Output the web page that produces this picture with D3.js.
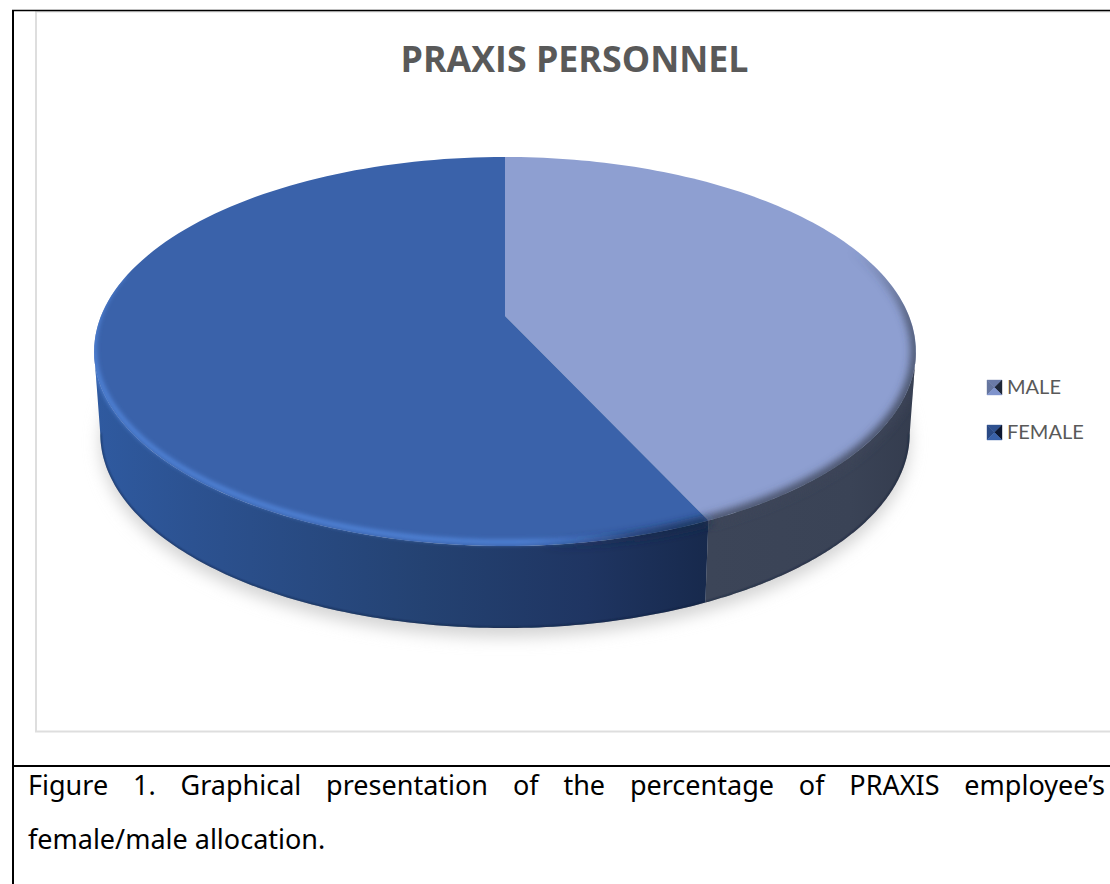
<!DOCTYPE html>
<html>
<head>
<meta charset="utf-8">
<script src="https://cdn.jsdelivr.net/npm/d3@7"></script>
<style>
  html, body { margin: 0; padding: 0; background: #fff; overflow: hidden; }
</style>
</head>
<body>
<div id="chart"></div>
<script>
// data
const categories = ["MALE", "FEMALE"];
const values = [43.1, 56.9];
const title = "PRAXIS PERSONNEL";
const captionLines = [
    "Figure 1. Graphical presentation of the percentage of PRAXIS employee\u2019s",
    "female/male allocation."
];

const width = 1110, height = 884;

const svg = d3.select("#chart").append("svg")
    .attr("width", width)
    .attr("height", height)
    .style("display", "block");

const defs = svg.append("defs");

// blur filters for shadow and bevel
[["blurShadow", 8], ["blurBevel", 4], ["blurSoft", 2.2], ["blurEdge", 1]].forEach(f => {
    defs.append("filter")
        .attr("id", f[0])
        .attr("filterUnits", "userSpaceOnUse")
        .attr("x", 0).attr("y", 0)
        .attr("width", width).attr("height", height)
        .append("feGaussianBlur")
        .attr("stdDeviation", f[1]);
});

function gradient(id, x1, y1, x2, y2, stops) {
    const g = defs.append("linearGradient")
        .attr("id", id)
        .attr("gradientUnits", "userSpaceOnUse")
        .attr("x1", x1).attr("x2", x2).attr("y1", y1).attr("y2", y2);
    stops.forEach(s => g.append("stop")
        .attr("offset", s[0]).attr("stop-color", s[1]).attr("stop-opacity", s[2] === undefined ? 1 : s[2]));
}
gradient("wallFemale", 94, 0, 916, 0, [[0, "#2f5aa0"], [0.12, "#2c5291"], [0.4, "#244272"], [0.6, "#1f3562"], [0.75, "#17294c"], [1, "#142340"]]);
gradient("wallMale", 94, 0, 916, 0, [[0, "#3c4558"], [0.75, "#3c4558"], [0.92, "#3a4356"], [1, "#343c4e"]]);
// bevel strokes fade along the rim
gradient("bevelMale", 0, 250, 0, 390, [[0, "#3c4558", 0], [0.5, "#3c4558", 0.85], [1, "#3c4558", 1]]);
gradient("bevelLight", 520, 0, 630, 0, [[0, "#4f82d6", 1], [1, "#4f82d6", 0]]);
gradient("bevelDark", 540, 0, 680, 0, [[0, "#17294c", 0], [1, "#17294c", 1]]);

// frame of the table cell and of the chart
const frame = svg.append("g");
frame.append("rect")
    .attr("x", 36).attr("y", 11.5)
    .attr("width", 1090).attr("height", 720)
    .attr("fill", "#fff").attr("stroke", "#dedede").attr("stroke-width", 2);
frame.append("line").attr("x1", 13).attr("x2", 13).attr("y1", 10).attr("y2", height)
    .attr("stroke", "#000").attr("stroke-width", 2);
frame.append("line").attr("x1", 12).attr("x2", width).attr("y1", 10.5).attr("y2", 10.5)
    .attr("stroke", "#000").attr("stroke-width", 1.5);
frame.append("line").attr("x1", 12).attr("x2", width).attr("y1", 766).attr("y2", 766)
    .attr("stroke", "#000").attr("stroke-width", 2);

// title
svg.append("text")
    .attr("x", 574.5).attr("y", 72)
    .attr("text-anchor", "middle")
    .attr("font-family", "'Open Sans', Lato, sans-serif")
    .attr("font-weight", 700)
    .attr("font-size", 35)
    .attr("textLength", 348)
    .attr("lengthAdjust", "spacingAndGlyphs")
    .attr("fill", "#595959")
    .text(title);

// perspective disc: the circle is foreshortened and its centre sits above
// the middle of the ellipse
const cx = 505, tipY = 316, radius = 404, persp = -0.1825, depthY = 130.4, wallH = 82, wallShrink = 0.985;

function project(angle, lower) {
    const u = Math.sin(angle), v = -Math.cos(angle);
    const w = 1 + persp * v;
    const x = radius * u / w;
    const y = (depthY * v + tipY) / w;
    return lower ? [cx + x * wallShrink, y + wallH] : [cx + x, y];
}

const pie = d3.pie().sort(null).value(d => d).startAngle(0).endAngle(2 * Math.PI);
const slices = pie(values);
const line = d3.line();

// the widest point of the ellipse, where the side starts to show
const sideStart = Math.acos(persp);
const sideEnd = 2 * Math.PI - sideStart;

function rimPoints(a0, a1, lower) {
    return d3.range(0, 121).map(i => project(a0 + (a1 - a0) * i / 120, lower));
}
function facePath(s) {
    return line([[cx, tipY]].concat(rimPoints(s.startAngle, s.endAngle, false))) + "Z";
}
function wallPath(s) {
    const a0 = Math.max(s.startAngle, sideStart);
    const a1 = Math.min(s.endAngle, sideEnd);
    return line(rimPoints(a0, a1, false).concat(rimPoints(a0, a1, true).reverse())) + "Z";
}

const fullRim = rimPoints(0, 2 * Math.PI, false);
const silhouette = defs.append("clipPath").attr("id", "discClip");
silhouette.append("path").attr("d", line(fullRim) + "Z");
slices.forEach(s => silhouette.append("path").attr("d", wallPath(s)));

const faceColor = d3.scaleOrdinal().domain(categories).range(["#8e9fd1", "#3a62aa"]);
const wallFill = d3.scaleOrdinal().domain(categories).range(["url(#wallMale)", "url(#wallFemale)"]);

// soft shadow under the disc
svg.append("path")
    .attr("d", line(rimPoints(0, 2 * Math.PI, true)) + "Z")
    .attr("transform", "translate(0,9)")
    .attr("fill", "#d4d4d4")
    .attr("filter", "url(#blurShadow)");

svg.selectAll(".wall")
    .data(slices)
    .enter().append("path")
    .attr("class", "wall")
    .attr("d", wallPath)
    .attr("fill", (d, i) => wallFill(categories[i]));

svg.selectAll(".face")
    .data(slices)
    .enter().append("path")
    .attr("class", "face")
    .attr("d", facePath)
    .attr("fill", (d, i) => faceColor(categories[i]));

// bevel along the rim: dark on the male slice, light on the female slice
const bevel = svg.append("g").attr("clip-path", "url(#discClip)");
bevel.append("path")
    .attr("d", line(rimPoints(slices[0].endAngle, 0.95)))
    .attr("fill", "none")
    .attr("stroke", "url(#bevelMale)")
    .attr("stroke-width", 9)
    .attr("filter", "url(#blurBevel)");
bevel.append("path")
    .attr("d", line(rimPoints(slices[0].endAngle, Math.PI)))
    .attr("fill", "none")
    .attr("stroke", "url(#bevelDark)")
    .attr("stroke-width", 8)
    .attr("filter", "url(#blurBevel)");
bevel.append("path")
    .attr("d", line(rimPoints(Math.PI - 0.5, sideEnd + 0.4)))
    .attr("transform", "translate(0,-4)")
    .attr("fill", "none")
    .attr("stroke", "url(#bevelLight)")
    .attr("stroke-width", 5)
    .attr("filter", "url(#blurSoft)");
// thin dark line on the lower edge of the side
bevel.append("path")
    .attr("d", line(rimPoints(sideStart, sideEnd, true)))
    .attr("fill", "none")
    .attr("stroke", "#111c36")
    .attr("stroke-opacity", 0.6)
    .attr("stroke-width", 2)
    .attr("filter", "url(#blurEdge)");

// legend
const legend = svg.selectAll(".legend")
    .data(categories)
    .enter().append("g")
    .attr("class", "legend")
    .attr("transform", (d, i) => "translate(987," + (380 + i * 45) + ")");

const legendShades = [
    ["#6a7aa6", "#65759f", "#1e2738", "#7f93cc"],
    ["#2f5190", "#2b4a85", "#0d1730", "#3a62aa"]
];
const sz = 15;
const sideTriangles = [
    [[0, 0], [sz, 0], [sz / 2, sz / 2]],
    [[0, 0], [0, sz], [sz / 2, sz / 2]],
    [[sz, 0], [sz, sz], [sz / 2, sz / 2]],
    [[0, sz], [sz, sz], [sz / 2, sz / 2]]
];
legend.each(function(d, i) {
    d3.select(this).selectAll("path")
        .data(sideTriangles)
        .enter().append("path")
        .attr("d", t => line(t) + "Z")
        .attr("fill", (t, j) => legendShades[i][j])
        .attr("stroke", (t, j) => legendShades[i][j])
        .attr("stroke-width", 0.4);
});
legend.append("text")
    .attr("x", 20).attr("y", 14)
    .attr("font-family", "Lato, 'Open Sans', sans-serif")
    .attr("font-size", 20)
    .attr("fill", "#595959")
    .text(d => d);

// caption, first line justified
const caption = svg.selectAll(".caption")
    .data(captionLines)
    .enter().append("text")
    .attr("class", "caption")
    .attr("x", 28)
    .attr("y", (d, i) => 795 + i * 54)
    .attr("font-family", "'Noto Sans', sans-serif")
    .attr("font-size", 27)
    .attr("fill", "#000")
    .text(d => d);

caption.filter((d, i) => i === 0).each(function(d) {
    const gaps = d.split(" ").length - 1;
    const extra = (1105 - 28 - this.getComputedTextLength()) / gaps;
    d3.select(this).attr("word-spacing", extra);
});
</script>
</body>
</html>
